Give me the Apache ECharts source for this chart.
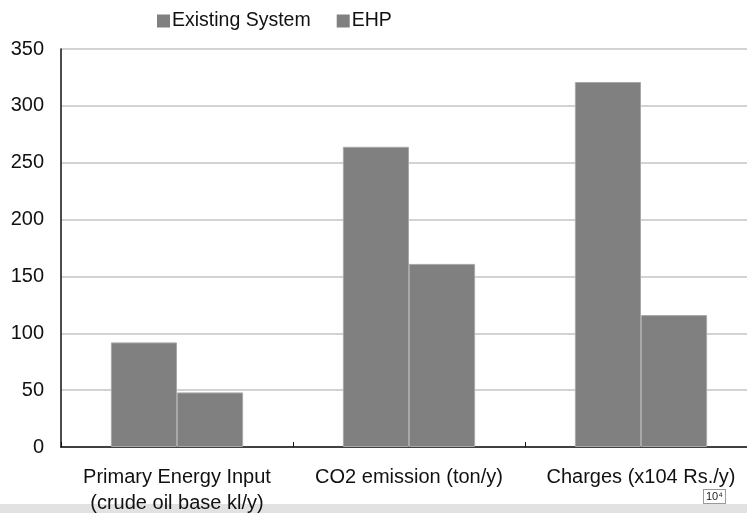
<!DOCTYPE html>
<html>
<head>
<meta charset="utf-8">
<script src="https://cdn.jsdelivr.net/npm/echarts@6/dist/echarts.min.js"></script>
<style>
  html, body { margin: 0; padding: 0; background: #ffffff; }
  #chart { width: 747px; height: 515px; }
</style>
</head>
<body>
<div id="chart"></div>
<script>
// Categories along the x axis
const categories = [
  'Primary Energy Input\n(crude oil base kl/y)',
  'CO2 emission (ton/y)',
  'Charges (x104 Rs./y)'
];
// Series values
const existingSystem = [92, 264, 321];
const ehp = [48, 161, 116];
// Value axis settings
const yTicks = { min: 0, max: 350, interval: 50 };

const FONT = '"Liberation Sans", Arial, sans-serif';
const BAR = '#808080';

const chart = echarts.init(document.getElementById('chart'), null, { renderer: 'canvas' });

chart.setOption({
  animation: false,
  backgroundColor: '#ffffff',
  textStyle: { fontFamily: FONT, color: '#111' },
  legend: {
    top: 6,
    left: 152,
    itemWidth: 13,
    itemHeight: 13,
    itemGap: 26,
    icon: 'rect',
    itemStyle: { borderWidth: 0 },
    textStyle: { fontFamily: FONT, fontSize: 19.5, color: '#111', padding: [0, 0, 0, -3] },
    data: ['Existing System', 'EHP']
  },
  grid: {
    left: 61, top: 49, width: 696, height: 398,
    containLabel: false, outerBoundsMode: 'none'
  },
  xAxis: {
    type: 'category',
    data: categories,
    axisLine: { lineStyle: { color: '#111', width: 1.5 } },
    axisTick: { show: true, inside: true, length: 5, lineStyle: { color: '#111' } },
    axisLabel: {
      interval: 0, margin: 17, fontFamily: FONT, fontSize: 20, lineHeight: 26, color: '#111'
    },
    splitLine: { show: false }
  },
  yAxis: {
    type: 'value',
    min: yTicks.min,
    max: yTicks.max,
    interval: yTicks.interval,
    axisLine: { show: true, lineStyle: { color: '#111', width: 1.5 } },
    axisTick: { show: false },
    axisLabel: { margin: 17, fontFamily: FONT, fontSize: 20, color: '#111' },
    splitLine: { lineStyle: { color: '#c4c4c4', width: 1.5 } }
  },
  series: [
    {
      name: 'Existing System',
      type: 'bar',
      data: existingSystem,
      barGap: '0%',
      barCategoryGap: '43%',
      itemStyle: { color: BAR, borderColor: '#a8a8a8', borderWidth: 1 }
    },
    {
      name: 'EHP',
      type: 'bar',
      data: ehp,
      itemStyle: { color: BAR, borderColor: '#a8a8a8', borderWidth: 1 }
    }
  ],
  graphic: [
    {
      type: 'rect',
      left: 0, top: 504,
      shape: { width: 747, height: 9 },
      style: { fill: '#e2e2e2' },
      silent: true
    },
    {
      type: 'text',
      left: 703, top: 489,
      style: {
        text: '10⁴', fontFamily: FONT, fontSize: 11, fill: '#222',
        backgroundColor: '#fff', borderColor: '#999', borderWidth: 1, padding: [1, 2]
      },
      z: 10
    }
  ]
});
</script>
</body>
</html>
